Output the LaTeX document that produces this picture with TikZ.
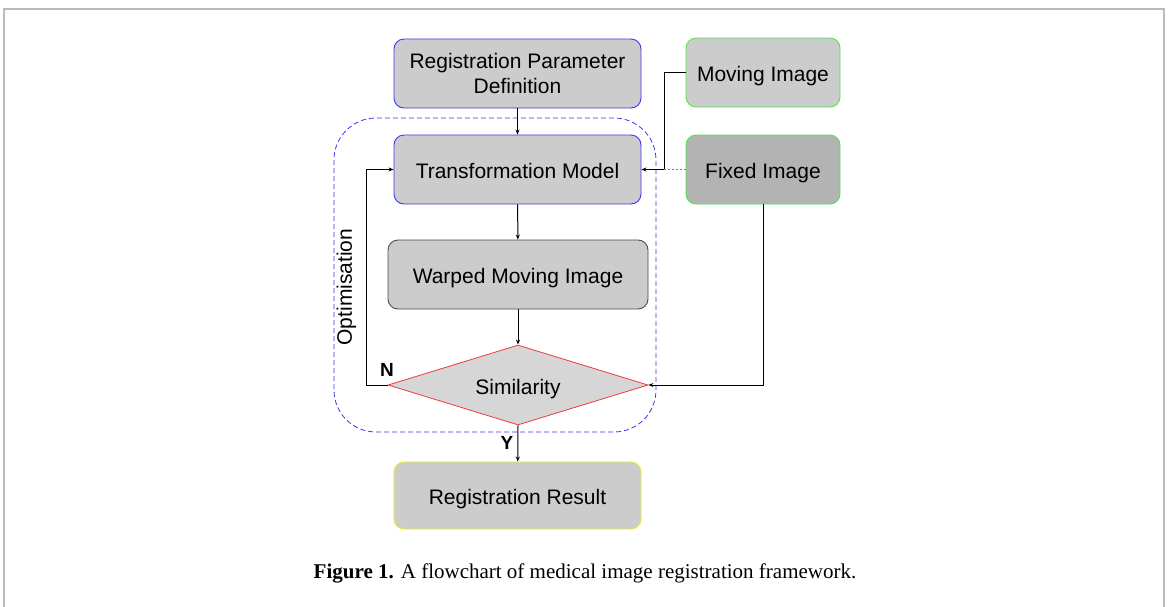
\documentclass[tikz,border=0pt]{standalone}
\usepackage{fontspec}
\setmainfont{Liberation Serif}
\newfontfamily\arialf{Liberation Sans}
\usetikzlibrary{shapes.geometric,arrows.meta}
\definecolor{boxgray}{HTML}{CCCCCC}
\definecolor{fixgray}{HTML}{B3B3B3}
\definecolor{diagray}{HTML}{D6D6D6}
\definecolor{bblue}{HTML}{3A3AF0}
\definecolor{bgreen}{HTML}{4CE84C}
\definecolor{byellow}{HTML}{E8E83A}
\definecolor{bred}{HTML}{F03A3A}
\definecolor{framegray}{HTML}{BBBBBB}
\tikzset{
  box/.style={rectangle, rounded corners=10pt, fill=boxgray, line width=0.9pt,
    minimum width=247pt, minimum height=69pt, align=center,
    font=\arialf\fontsize{21}{25}\selectfont, inner sep=0pt},
  oneline/.style={text height=20pt, text depth=2pt},
  conn/.style={line width=1pt, -{Stealth[length=5pt,width=4pt]}},
  plain/.style={line width=1pt},
  yn/.style={font=\arialf\bfseries\fontsize{19}{22}\selectfont},
}
\begin{document}
\begin{tikzpicture}[x=1pt,y=-1pt]
\useasboundingbox (0,0) rectangle (1168,606);
\fill[white] (0,0) rectangle (1168,606);
\draw[framegray, line width=1.2pt] (4,607) -- (4,9) -- (1164,9) -- (1164,607);

% dashed optimisation region
\draw[bblue, dashed, dash pattern=on 5pt off 3pt, line width=0.8pt, rounded corners=42pt]
  (334,118) rectangle (656,432);

\node[box, draw=bblue] (rpd) at (517.5,73.5) {Registration Parameter\\Definition};
\node[box, oneline, draw=bgreen, minimum width=154pt] (mov) at (763,72.5) {Moving Image};
\node[box, oneline, draw=bblue] (tm) at (517.5,169.5) {Transformation Model};
\node[box, oneline, draw=bgreen, fill=fixgray, minimum width=154pt] (fix) at (763,169.5) {Fixed Image};
\node[box, oneline, draw=black!70, minimum width=260pt] (wmi) at (518,274.5) {Warped Moving Image};
\node[diamond, draw=bred, fill=diagray, line width=0.8pt, minimum width=260pt, minimum height=80pt,
  inner sep=0pt, aspect=3.25, oneline, font=\arialf\fontsize{21}{25}\selectfont] (sim) at (518,385) {Similarity};
\node[box, oneline, draw=byellow, minimum height=67pt] (res) at (517.5,495.5) {Registration Result};

\node[rotate=90, font=\arialf\fontsize{21}{25}\selectfont] (opt) at (346.5,287) {Optimisation};
\node[yn] (nlab) at (387,370) {N};
\node[yn] (ylab) at (507,443) {Y};

\coordinate (jm) at (664,169.5);
\draw[conn] (rpd) -- (tm);
\draw[conn] (tm) -- (wmi);
\draw[conn] (wmi) -- (sim.north);
\draw[conn] (sim.south) -- (res);
\draw[conn] (sim.west) -- (366,385) -- (366,169.5) -- (tm.west);
\draw[plain] (mov.west) -- (664,72.5) -- (jm);
\draw[conn] (jm) -- (tm.east);
\draw[gray, dash pattern=on 2pt off 2pt, line width=1pt] (fix.west) -- (jm);
\draw[conn] (fix.south) -- (763,385) -- (sim.east);

\node[font=\fontsize{21}{24}\selectfont] (cap) at (585,573.5)
  {\textbf{Figure 1.} A flowchart of medical image registration framework.};
\end{tikzpicture}
\end{document}
